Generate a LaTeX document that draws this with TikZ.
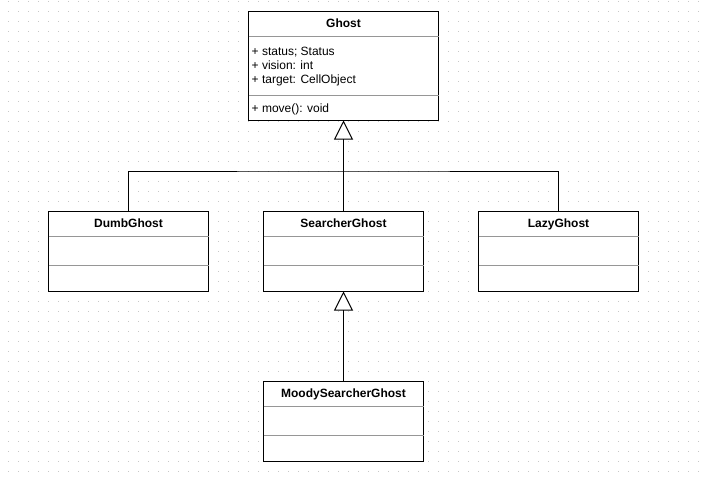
\documentclass[tikz,border=0pt]{standalone}
\usepackage{fontspec}
\setmainfont{Liberation Sans}
\usepackage{tikz}
\usetikzlibrary{positioning, arrows.meta}
\definecolor{dotgray}{RGB}{200,200,200}
\definecolor{splitgray}{RGB}{150,150,150}
\tikzstyle{classbox} = [rectangle, draw, fill=white, line width=1pt, minimum width=160pt, minimum height=80pt, inner sep=0pt, outer sep=0pt]
\tikzstyle{title} = [anchor=base, font=\fontsize{12}{14}\selectfont\bfseries, inner sep=0pt]
\tikzstyle{member} = [anchor=base west, inner sep=0pt]
\tikzstyle{split} = [draw=splitgray, line width=1pt]
\tikzstyle{line} = [line width=1pt, -]
\tikzstyle{inherit} = [line width=1pt, -{Triangle[open, length=19pt, width=19pt]}]

\begin{document}
\begin{tikzpicture}[x=1pt, y=-1pt, font=\fontsize{12}{13.8}\selectfont]
\fill [white] (0,0) rectangle (703,480);
\useasboundingbox (0,0) rectangle (703,480);
% background grid
\foreach \x in {8,18,...,698}
  \foreach \y in {1,11,...,471}
    \fill [dotgray] (\x,\y) rectangle ++(1,1);

\node [classbox, minimum width=190pt, minimum height=109pt] (g) at (343.5,66) {};
\node [classbox] (g2) [below=91pt of g] {};
\node [classbox] (g1) [left=55pt of g2] {};
\node [classbox] (g3) [right=55pt of g2] {};
\node [classbox] (g21) [below=90pt of g2] {};

\node [title] (gt) at ([yshift=-15.5pt]g.north) {Ghost};
\node [title] (g1t) at ([yshift=-15.5pt]g1.north) {DumbGhost};
\node [title] (g2t) at ([yshift=-15.5pt]g2.north) {SearcherGhost};
\node [title] (g3t) at ([yshift=-15.5pt]g3.north) {LazyGhost};
\node [title] (g21t) at ([yshift=-15.5pt]g21.north) {MoodySearcherGhost};

\node [member] (ga1) at ([xshift=3pt, yshift=-44.2pt]g.north west) {+ status;\ Status};
\node [member] (ga2) at ([xshift=3pt, yshift=-57.8pt]g.north west) {+ vision: int};
\node [member] (ga3) at ([xshift=3pt, yshift=-71.8pt]g.north west) {+ target: CellObject};
\node [member] (gm1) at ([xshift=3pt, yshift=-100.8pt]g.north west) {+ move(): void};

\draw [split] ([yshift=-25pt]g.north west) -- ([yshift=-25pt]g.north east);
\draw [split] ([yshift=-84pt]g.north west) -- ([yshift=-84pt]g.north east);

\draw [split] ([yshift=-25pt]g1.north west) -- ([yshift=-25pt]g1.north east);
\draw [split] ([yshift=-54pt]g1.north west) -- ([yshift=-54pt]g1.north east);
\draw [split] ([yshift=-25pt]g2.north west) -- ([yshift=-25pt]g2.north east);
\draw [split] ([yshift=-54pt]g2.north west) -- ([yshift=-54pt]g2.north east);
\draw [split] ([yshift=-25pt]g3.north west) -- ([yshift=-25pt]g3.north east);
\draw [split] ([yshift=-54pt]g3.north west) -- ([yshift=-54pt]g3.north east);
\draw [split] ([yshift=-25pt]g21.north west) -- ([yshift=-25pt]g21.north east);
\draw [split] ([yshift=-54pt]g21.north west) -- ([yshift=-54pt]g21.north east);

\coordinate (j) at (343.5,171);
\draw [line] (g1.north) |- (j) -| (g3.north);
\draw [inherit] (g2) -- (g);
\draw [inherit] (g21) -- (g2);
\end{tikzpicture}
\end{document}
